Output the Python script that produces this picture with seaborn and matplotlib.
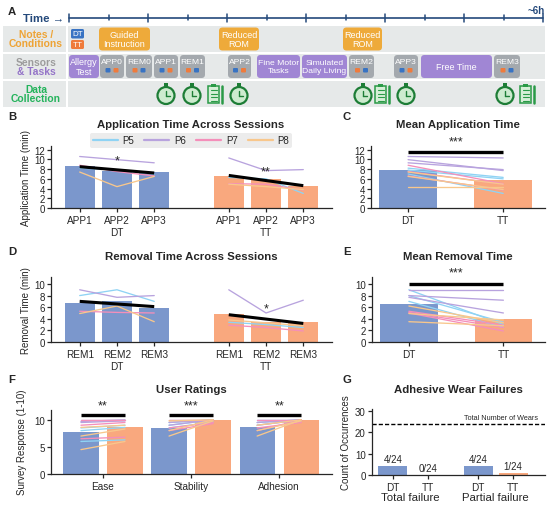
import matplotlib
matplotlib.use('Agg')
import matplotlib.pyplot as plt
from matplotlib.patches import FancyBboxPatch, Circle, Rectangle
from matplotlib.lines import Line2D
from matplotlib.transforms import blended_transform_factory
import seaborn as sns
import pandas as pd

sns.set_style('ticks')
plt.rcParams['font.family'] = ['Liberation Sans', 'DejaVu Sans']
plt.rcParams['axes.linewidth'] = 0.9
plt.rcParams['xtick.major.width'] = 0.9
plt.rcParams['ytick.major.width'] = 0.9
plt.rcParams['xtick.major.size'] = 3
plt.rcParams['ytick.major.size'] = 3
plt.rcParams['xtick.major.pad'] = 2
plt.rcParams['ytick.major.pad'] = 1.5

W, H = 550, 506

DT_COL = '#7b97cc'
TT_COL = '#f9a87e'
P_COLS = {'P5': '#8fd3f4', 'P6': '#b8a3de', 'P7': '#f48fba', 'P8': '#f8c78c'}
participants = ['P5', 'P6', 'P7', 'P8']

# ---- data: application time (B, C)
app_sessions = ['APP1', 'APP2', 'APP3']
app_dt_mean = [8.7, 7.6, 7.4]
app_tt_mean = [6.6, 5.9, 4.6]
app_dt_trend = [8.5, 7.2]
app_tt_trend = [6.7, 4.6]
app_dt = {'P5': [8.2, 7.8, 7.0], 'P6': [10.6, 9.95, 9.3],
          'P7': [8.8, 7.5, 6.6], 'P8': [7.4, 4.4, 6.5]}
app_tt = {'P5': [6.3, 6.0, 3.0], 'P6': [10.3, 7.7, 7.9],
          'P7': [5.0, 4.9, 3.7], 'P8': [4.9, 4.4, 3.8]}
app_overall = [7.9, 5.7]

# ---- data: removal time (D, E)
rem_sessions = ['REM1', 'REM2', 'REM3']
rem_dt_mean = [6.8, 7.0, 5.9]
rem_tt_mean = [4.9, 3.4, 3.5]
rem_dt_trend = [7.0, 6.1]
rem_tt_trend = [4.7, 3.2]
rem_dt = {'P5': [8.0, 9.0, 7.0], 'P6': [9.0, 7.7, 8.0],
          'P7': [5.3, 5.1, 5.0], 'P8': [4.9, 6.2, 3.5]}
rem_tt = {'P5': [3.4, 3.0, 2.5], 'P6': [9.0, 5.0, 7.2],
          'P7': [2.9, 2.5, 1.9], 'P8': [3.8, 3.3, 2.8]}
rem_overall = [6.6, 3.9]

# ---- data: user ratings (F)
rating_cats = ['Ease', 'Stability', 'Adhesion']
rating_dt_mean = [7.8, 8.5, 8.6]
rating_tt_mean = [8.6, 9.9, 9.9]
rating_stars = ['**', '***', '**']
rating_dt = {'Ease': {'P5': [8.0, 6.0, 8.5], 'P6': [9.7, 9.5, 10], 'P7': [10, 6.5, 9.0], 'P8': [4.5, 7.0, 8.6]},
             'Stability': {'P5': [9.0, 9.5, 8.5], 'P6': [9.5, 9.0, 10], 'P7': [8.0, 10, 8.5], 'P8': [7.0, 8.0, 9.8]},
             'Adhesion': {'P5': [9.0, 9.5, 10], 'P6': [9.5, 9.0, 10], 'P7': [8.0, 8.5, 10], 'P8': [7.0, 8.0, 9.0]}}
rating_tt = {'Ease': {'P5': [8.6, 6.3, 9.0], 'P6': [10, 9.8, 10], 'P7': [10, 6.8, 9.5], 'P8': [6.0, 8.3, 9.0]},
             'Stability': {'P5': [10, 10, 9.6], 'P6': [10, 10, 10], 'P7': [9.3, 10, 9.5], 'P8': [9.8, 10, 10]},
             'Adhesion': {'P5': [10, 10, 10], 'P6': [10, 10, 10], 'P7': [10, 9.5, 10], 'P8': [10, 9.8, 10]}}

# ---- data: adhesive failures (G)
fail_groups = ['Total failure', 'Total failure', 'Partial failure', 'Partial failure']
fail_cond = ['DT', 'TT', 'DT', 'TT']
fail_count = [4, 0, 4, 1]
fail_labels = ['4/24', '0/24', '4/24', '1/24']
total_wears = 24

fig = plt.figure(figsize=(W / 100, H / 100), dpi=100)


def add_ax(left, top, right, bottom):
    ax = fig.add_axes([left / W, 1 - bottom / H, (right - left) / W, (bottom - top) / H])
    ax.set_facecolor('none')
    return ax


# ================= panel A (schematic, pixel coords) =================
axA = fig.add_axes([0, 0, 1, 1])
axA.set_xlim(0, W)
axA.set_ylim(H, 0)
axA.axis('off')

NAVY = '#24497b'
ORANGE = '#eeaa3a'
PURPLE = '#a086d4'
GRAY = '#a4a9ae'
BLUE_SQ = '#3873c3'
ORANGE_SQ = '#ef7b3c'
GREEN = '#1d7d36'
ROW_BG = '#e6e9e9'

axA.text(64, 19, 'Time \u2192', ha='right', va='center', fontsize=8.2, fontweight='bold', color=NAVY)
axA.text(545, 10.5, '~6h', ha='right', va='center', fontsize=7, fontweight='bold', color=NAVY)
axA.plot([69, 543], [18.7, 18.7], color=NAVY, lw=1.2)
for k in range(13):
    x = 69 + k * 39.5
    h = 4 if k % 2 == 0 else 2.5
    axA.plot([x, x], [18.7 - h, 18.7 + h], color=NAVY, lw=1.1)

rows = [(27, 53), (55, 80), (82, 108)]
for y0, y1 in rows:
    axA.add_patch(Rectangle((3, y0), 63, y1 - y0, color=ROW_BG, lw=0))
    axA.add_patch(Rectangle((68, y0), 477, y1 - y0, color=ROW_BG, lw=0))

lab_kw = dict(ha='center', va='center', fontsize=7.4, fontweight='bold')
axA.text(36, 34.5, 'Notes /', color='#eea334', **lab_kw)
axA.text(36, 44, 'Conditions', color='#eea334', **lab_kw)
axA.text(36, 62.5, 'Sensors', color='#9c9c9c', **lab_kw)
axA.text(36, 72, '& Tasks', color='#9474c8', **lab_kw)
axA.text(36, 89.5, 'Data', color='#23b35b', **lab_kw)
axA.text(36, 99, 'Collection', color='#23b35b', **lab_kw)


def box(x0, x1, y0, y1, color, text, fs=6.5, ty=None, r=3.5):
    axA.add_patch(FancyBboxPatch((x0, y0), x1 - x0, y1 - y0,
                                 boxstyle='round,pad=0,rounding_size=%s' % r,
                                 facecolor=color, edgecolor='none'))
    if text:
        axA.text((x0 + x1) / 2, ty if ty is not None else (y0 + y1) / 2, text,
                 ha='center', va='center', fontsize=fs, color='white', linespacing=1.05)


box(71, 84, 30, 39.5, BLUE_SQ, 'DT', fs=5.8, r=1.5)
box(71, 84, 41, 50, ORANGE_SQ, 'TT', fs=5.8, r=1.5)
box(99, 150, 28.5, 51.5, ORANGE, 'Guided\nInstruction')
box(219, 259, 28.5, 51.5, ORANGE, 'Reduced\nROM')
box(343, 382, 28.5, 51.5, ORANGE, 'Reduced\nROM')

box(69, 99, 56, 79, PURPLE, 'Allergy\nTest')
box(257, 300, 56, 79, PURPLE, 'Fine Motor\nTasks', fs=6.1)
box(302, 347, 56, 79, PURPLE, 'Simulated\nDaily Living', fs=6.1)
box(421, 492, 56, 79, PURPLE, 'Free Time')

sessions_a = [(100, 124, 'APP0', 'DT'), (126, 152, 'REM0', 'TT'), (154, 178, 'APP1', 'DT'),
              (180, 205, 'REM1', 'TT'), (228, 251, 'APP2', 'DT'), (349, 374, 'REM2', 'TT'),
              (394, 418, 'APP3', 'DT'), (494, 520, 'REM3', 'TT')]
for x0, x1, name, first in sessions_a:
    box(x0, x1, 56, 79, GRAY, name, fs=6.1, ty=62.5)
    cx = (x0 + x1) / 2
    c1, c2 = (BLUE_SQ, ORANGE_SQ) if first == 'DT' else (ORANGE_SQ, BLUE_SQ)
    axA.add_patch(FancyBboxPatch((cx - 6.5, 69), 5, 4.5, boxstyle='round,pad=0,rounding_size=1',
                                 color=c1, lw=0))
    axA.add_patch(FancyBboxPatch((cx + 1.5, 69), 5, 4.5, boxstyle='round,pad=0,rounding_size=1',
                                 color=c2, lw=0))


def clock(cx, cy=96.5):
    axA.add_patch(Rectangle((cx - 2.2, cy - 12.5), 4.4, 3, color=GREEN, lw=0))
    axA.add_patch(Circle((cx, cy), 8.5, facecolor='#cdebcf', edgecolor=GREEN, lw=1.6))
    axA.plot([cx, cx], [cy, cy - 5], color=GREEN, lw=1)
    axA.plot([cx, cx + 4], [cy, cy], color=GREEN, lw=1)


def clipboard(cx, cy=95):
    axA.add_patch(Rectangle((cx - 6, cy - 8.5), 11, 17, facecolor='#d6efd7', edgecolor='#2a9a47', lw=1.1))
    axA.add_patch(Rectangle((cx - 3, cy - 10), 5, 2.5, color='#2a9a47', lw=0))
    for k in range(4):
        yy = cy - 4 + k * 3.5
        axA.plot([cx - 3.5, cx + 2.5], [yy, yy], color='#2a9a47', lw=0.8)
    axA.plot([cx + 8, cx + 8], [cy - 8, cy + 8.5], color='#2a9a47', lw=1.8)


for cx in [166, 192, 239, 363, 406, 505]:
    clock(cx)
for cx in [214, 381, 526]:
    clipboard(cx)

# panel letters and titles
for letter, x, y in [('A', 12, 12), ('B', 12, 117), ('C', 347, 117), ('D', 12, 252),
                     ('E', 347, 252), ('F', 12, 380), ('G', 347, 380)]:
    axA.text(x, y, letter, ha='center', va='center', fontsize=8.2, fontweight='bold')

title_kw = dict(ha='center', va='center', fontsize=8.2, fontweight='bold')
axA.text(191, 125, 'Application Time Across Sessions', **title_kw)
axA.text(458, 125, 'Mean Application Time', **title_kw)
axA.text(191, 257, 'Removal Time Across Sessions', **title_kw)
axA.text(458, 257, 'Mean Removal Time', **title_kw)
axA.text(191, 390, 'User Ratings', **title_kw)
axA.text(458, 390, 'Adhesive Wear Failures', **title_kw)

palette = {'DT': DT_COL, 'TT': TT_COL}


def style(ax):
    sns.despine(ax=ax)
    ax.tick_params(axis='x', labelsize=7.2)
    ax.tick_params(axis='y', labelsize=7)


def sessions_panel(ax, names, dt_mean, tt_mean, dt_tr, tt_tr, dt_vals, tt_vals, ylim, ylabel, stars):
    pos_dt, pos_tt = [0, 1, 2], [4, 5, 6]
    df = pd.DataFrame({'pos': pos_dt + pos_tt, 'val': dt_mean + tt_mean,
                       'cond': ['DT'] * 3 + ['TT'] * 3})
    sns.barplot(data=df, x='pos', y='val', hue='cond', palette=palette, native_scale=True,
                width=0.8, saturation=1, linewidth=0, legend=False, ax=ax)
    for p in participants:
        ax.plot(pos_dt, dt_vals[p], color=P_COLS[p], lw=0.95, zorder=3)
        ax.plot(pos_tt, tt_vals[p], color=P_COLS[p], lw=0.95, zorder=3)
    ax.plot([0, 2], dt_tr, color='black', lw=2.2, zorder=4, solid_capstyle='butt')
    ax.plot([4, 6], tt_tr, color='black', lw=2.2, zorder=4, solid_capstyle='butt')
    for x, y, s in stars:
        ax.text(x, y, s, ha='center', va='center', fontsize=9, zorder=5)
    ax.set_xticks(pos_dt + pos_tt, [names[0], names[1] + '\nDT', names[2],
                                     names[0], names[1] + '\nTT', names[2]])
    ax.set_xlim(-0.77, 6.77)
    ax.set_ylim(*ylim)
    ax.set_yticks(range(0, int(ylim[1]) + 1, 2))
    ax.set_xlabel('')
    ax.set_ylabel(ylabel, fontsize=7, labelpad=2)
    style(ax)


def mean_panel(ax, means, dt_vals, tt_vals, ylim, sig_y, star_y):
    df = pd.DataFrame({'pos': [0, 1], 'val': means, 'cond': ['DT', 'TT']})
    sns.barplot(data=df, x='pos', y='val', hue='cond', palette=palette, native_scale=True,
                width=0.61, saturation=1, linewidth=0, legend=False, ax=ax)
    for p in participants:
        for a, b in zip(dt_vals[p], tt_vals[p]):
            ax.plot([0, 1], [a, b], color=P_COLS[p], lw=0.95, zorder=3)
    ax.plot([0, 1], [sig_y, sig_y], color='black', lw=2.4, zorder=4, solid_capstyle='butt')
    ax.text(0.5, star_y, '***', ha='center', va='center', fontsize=9, clip_on=False)
    ax.set_xticks([0, 1], ['DT', 'TT'])
    ax.set_xlim(-0.39, 1.44)
    ax.set_ylim(*ylim)
    ax.set_yticks(range(0, int(ylim[1]) + 1, 2))
    ax.set_xlabel('')
    ax.set_ylabel('')
    style(ax)


# ================= panel B / C =================
axB = add_ax(51, 146.8, 332, 209)
sessions_panel(axB, app_sessions, app_dt_mean, app_tt_mean, app_dt_trend, app_tt_trend,
               app_dt, app_tt, (0, 12.8), 'Application Time (min)', [(1, 9.7, '*'), (5, 7.6, '**')])
handles = [Line2D([], [], color=P_COLS[p], lw=1.6) for p in participants]
leg = fig.legend(handles, participants, loc='center', bbox_to_anchor=(191 / W, 1 - 141.5 / H),
                 ncol=4, fontsize=7, handlelength=2.6, columnspacing=1.0, handletextpad=0.5,
                 borderpad=0.3, borderaxespad=0, frameon=True, fancybox=True)
leg.get_frame().set_facecolor('#ececec')
leg.get_frame().set_edgecolor('none')
leg.get_frame().set_alpha(1)

axC = add_ax(371, 146.8, 545, 209)
mean_panel(axC, app_overall, app_dt, app_tt, (0, 12.8), 11.6, 13.6)

# ================= panel D / E =================
axD = add_ax(51, 278, 332, 343)
sessions_panel(axD, rem_sessions, rem_dt_mean, rem_tt_mean, rem_dt_trend, rem_tt_trend,
               rem_dt, rem_tt, (0, 11.2), 'Removal Time (min)', [(5, 5.7, '*')])

axE = add_ax(372, 278, 545, 343)
mean_panel(axE, rem_overall, rem_dt, rem_tt, (0, 11.2), 10, 12)

# ================= panel F =================
axF = add_ax(51, 410.5, 332, 475)
dfF = pd.DataFrame({'cat': rating_cats * 2, 'val': rating_dt_mean + rating_tt_mean,
                    'cond': ['DT'] * 3 + ['TT'] * 3})
sns.barplot(data=dfF, x='cat', y='val', hue='cond', order=rating_cats, palette=palette,
            width=1.0, gap=0.2, saturation=1, linewidth=0, legend=False, ax=axF)
for i, c in enumerate(rating_cats):
    for p in participants:
        for a, b in zip(rating_dt[c][p], rating_tt[c][p]):
            axF.plot([i - 0.25, i + 0.25], [a, b], color=P_COLS[p], lw=0.95, zorder=3)
    axF.plot([i - 0.25, i + 0.25], [10.9, 10.9], color='black', lw=2.4, zorder=4, solid_capstyle='butt')
    axF.text(i, 12.7, rating_stars[i], ha='center', va='center', fontsize=9, clip_on=False)
axF.set_xlim(-0.59, 2.6)
axF.set_ylim(0, 11.9)
axF.set_yticks([0, 5, 10])
axF.set_xlabel('')
axF.set_ylabel('Survey Response (1-10)', fontsize=7, labelpad=5)
style(axF)

# ================= panel G =================
axG = add_ax(372, 410, 545, 476)
dfG = pd.DataFrame({'group': fail_groups, 'cond': fail_cond, 'count': fail_count})
sns.barplot(data=dfG, x='group', y='count', hue='cond', palette=palette, width=0.82, gap=0.17,
            saturation=1, linewidth=0, legend=False, ax=axG)
xpos = [-0.205, 0.205, 0.795, 1.205]
for x, n, lab in zip(xpos, fail_count, fail_labels):
    axG.text(x, n + 1.0, lab, ha='center', va='bottom', fontsize=7)
axG.axhline(total_wears, color='black', ls=(0, (3, 1.5)), lw=1)
axG.text(1.5, total_wears + 1.2, 'Total Number of Wears', ha='right', va='bottom', fontsize=5.2)
axG.set_xticks(xpos, fail_cond)
trans = blended_transform_factory(axG.transData, axG.transAxes)
axG.text(0, -0.33, 'Total failure', transform=trans, ha='center', va='center', fontsize=8.2)
axG.text(1, -0.33, 'Partial failure', transform=trans, ha='center', va='center', fontsize=8.2)
axG.set_xlim(-0.45, 1.58)
axG.set_ylim(0, 31)
axG.set_yticks([0, 10, 20, 30])
axG.set_xlabel('')
axG.set_ylabel('Count of Occurrences', fontsize=7, labelpad=3)
style(axG)

fig.savefig('out.png', dpi=100)
